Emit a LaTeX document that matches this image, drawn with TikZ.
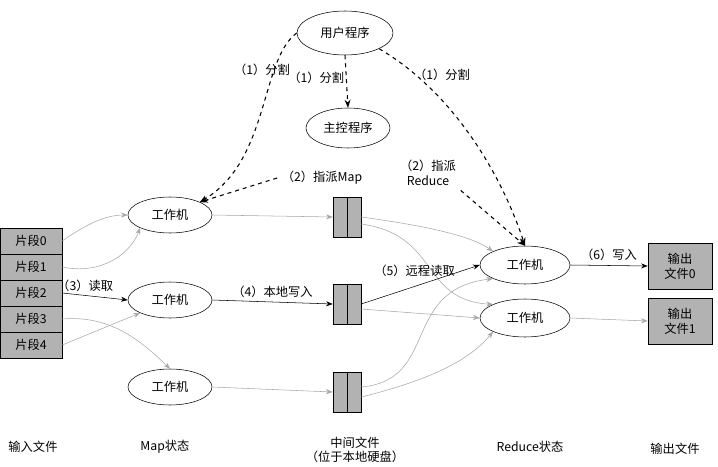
\documentclass[tikz,border=0pt]{standalone}
\usepackage{fontspec}
\setmainfont{Liberation Serif}
\newfontfamily\cjk{Noto Sans CJK SC}[Scale=0.92]
\usetikzlibrary{arrows.meta,shapes.geometric}
\begin{document}
\begin{tikzpicture}[x=0.75pt,y=-0.75pt,font=\cjk\fontsize{10}{12}\selectfont,
  ell/.style={draw,ellipse,minimum width=84pt*0.75,minimum height=36pt*0.75,inner sep=0pt},
  seg/.style={draw,fill=gray!60,minimum width=62pt*0.75,minimum height=26pt*0.75,inner sep=0pt},
  file/.style={draw,fill=gray!60,minimum width=28pt*0.75,minimum height=40pt*0.75,inner sep=0pt},
  outf/.style={draw,fill=gray!60,minimum width=64pt*0.75,minimum height=46pt*0.75,inner sep=0pt,align=center,font=\cjk\fontsize{10}{11}\selectfont},
  ga/.style={draw=gray!70,-{Stealth[length=5pt]}},
  ba/.style={draw=black,-{Stealth[length=5pt]}},
  da/.style={draw=black,dashed,thick,-{Stealth[length=6pt]}}]
\useasboundingbox (0,0) rectangle (718,467);
\node[ell,minimum width=96pt*0.75,minimum height=44pt*0.75] (user) at (345,33) {用户程序};
\node[ell,minimum width=84pt*0.75,minimum height=40pt*0.75] (master) at (348,128) {主控程序};
\foreach \i/\y in {0/241,1/267,2/293,3/319,4/345} \node[seg] (s\i) at (31,\y) {片段\i};
\node[ell] (m1) at (170,215) {工作机};
\node[ell] (m2) at (170,300) {工作机};
\node[ell] (m3) at (170,387) {工作机};
\foreach \n/\y in {f1/217,f2/304,f3/392}{
  \node[file] (\n) at (347,\y) {};
  \draw (\n.north) -- (\n.south);}
\node[ell,minimum width=90pt*0.75,minimum height=38pt*0.75] (r1) at (525,265) {工作机};
\node[ell,minimum width=90pt*0.75,minimum height=38pt*0.75] (r2) at (525,318) {工作机};
\node[outf] (o0) at (680,266) {输出\\文件0};
\node[outf] (o1) at (680,321) {输出\\文件1};
% dashed
\draw[da] (user.south) -- (master.north) node[midway,left=-2pt,yshift=3pt] {（1）分割};
\draw[da] (user.west) .. controls (260,60) and (270,160) .. (m1.north east) ;
\node at (262,70) {（1）分割};
\draw[da] (user.south east) .. controls (450,90) and (500,170) .. (r1.north);
\node at (442,75) {（1）分割};
\node (am) at (322,178) {（2）指派Map};
\draw[da] (am.west) -- (m1.north east);
\node[align=center,font=\cjk\fontsize{10}{11}\selectfont] (ar) at (428,173) {（2）指派\\Reduce};
\draw[da] (ar.south east) -- (r1.north);
% inputs
\draw[ga] (s0.east) .. controls (85,225) and (105,215) .. (m1.west);
\draw[ga] (s1.east) .. controls (100,275) and (130,255) .. (m1.south west);
\draw[ba] (s2.east) -- (m2.west) node[pos=0.35,above=-1pt] {（3）读取};
\draw[ga] (s3.east) .. controls (110,315) and (140,340) .. (m3.north);
\draw[ga] (s4.east) -- (m2.south west);
% map to files
\draw[ga] (m1.east) -- (f1.west);
\draw[ba] (m2.east) -- (f2.west) node[midway,above] {（4）本地写入};
\draw[ga] (m3.east) -- (f3.west);
% files to reduce
\draw[ga] (f1.east) .. controls (420,225) and (470,235) .. (r1.north west);
\draw[ga] (f1.east) ++(0,7) .. controls (440,235) and (420,300) .. (r2.north west);
\draw[ba] (f2.east) -- (r1.west) node[midway,above=4pt,pos=0.45] {（5）远程读取};
\draw[ga] (f2.east) ++(0,5) -- (r2.west);
\draw[ga] (f3.east) ++(0,-5) .. controls (440,380) and (400,290) .. (r1.south west);
\draw[ga] (f3.east) ++(0,5) .. controls (430,380) and (470,360) .. (r2.south west);
% outputs
\draw[ba] (r1.east) -- (o0.west) node[midway,above] {（6）写入};
\draw[ga] (r2.east) -- (o1.west);
% bottom labels
\node at (33,447) {输入文件};
\node at (165,447) {Map状态};
\node[align=center,font=\cjk\fontsize{10}{11}\selectfont] at (355,450) {中间文件\\（位于本地硬盘）};
\node at (530,447) {Reduce状态};
\node at (675,449) {输出文件};
\end{tikzpicture}
\end{document}
